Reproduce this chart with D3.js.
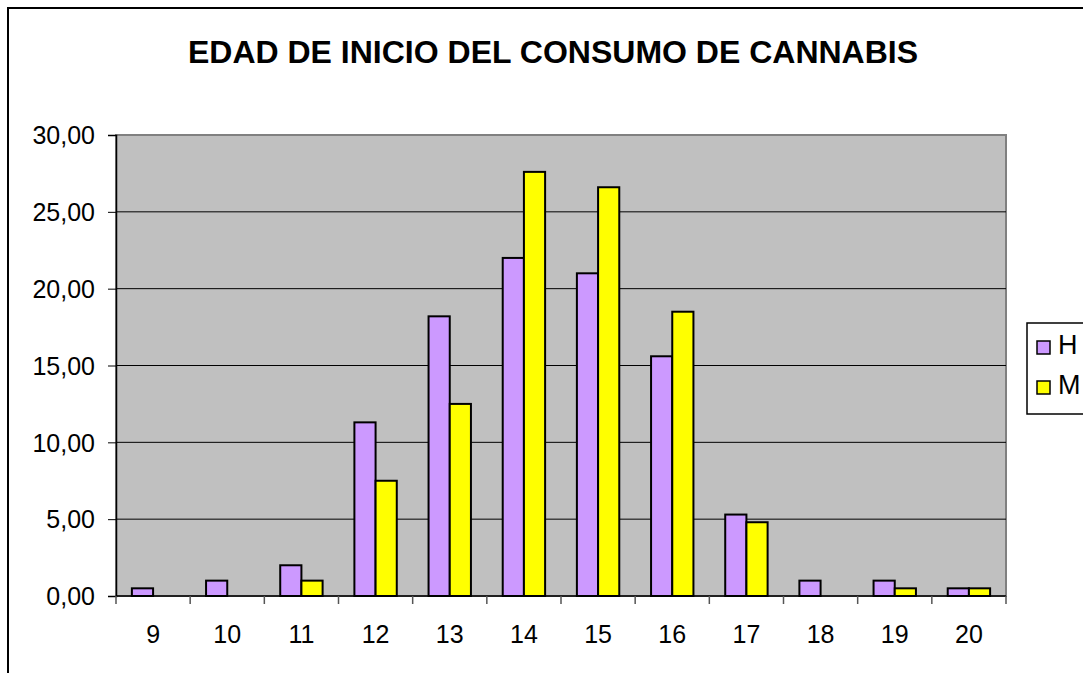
<!DOCTYPE html>
<html>
<head>
<meta charset="utf-8">
<script src="https://cdn.jsdelivr.net/npm/d3@7"></script>
<style>
  body { margin: 0; background: #fff; }
  text { font-family: "Liberation Sans", Arial, sans-serif; }
</style>
</head>
<body>
<div id="chart"></div>
<script>
// chart data
const ages = ["9", "10", "11", "12", "13", "14", "15", "16", "17", "18", "19", "20"];
const seriesNames = ["H", "M"];
const valuesH = [0.5, 1.0, 2.0, 11.3, 18.2, 22.0, 21.0, 15.6, 5.3, 1.0, 1.0, 0.5];
const valuesM = [0, 0, 1.0, 7.5, 12.5, 27.6, 26.6, 18.5, 4.8, 0, 0.5, 0.5];
const yTicks = [0, 5, 10, 15, 20, 25, 30];
const colors = ["#cc99ff", "#ffff00"];

const W = 1083, H = 673;
const plot = {left: 116, right: 1006, top: 135, bottom: 596};

const svg = d3.select("#chart").append("svg")
    .attr("width", W)
    .attr("height", H);

// outer chart frame (runs off the right/bottom edges)
svg.append("rect")
    .attr("x", 8).attr("y", 8)
    .attr("width", W + 20).attr("height", H + 20)
    .attr("fill", "#fff")
    .attr("stroke", "#000")
    .attr("stroke-width", 2);

// title
svg.append("text")
    .attr("x", 553).attr("y", 63)
    .attr("text-anchor", "middle")
    .attr("font-weight", "bold")
    .attr("font-size", 32)
    .text("EDAD DE INICIO DEL CONSUMO DE CANNABIS");

// scales
const x = d3.scaleBand()
    .domain(ages)
    .range([plot.left, plot.right]);

const y = d3.scaleLinear()
    .domain([0, 30])
    .range([plot.bottom, plot.top]);

// Excel style gap width 150%
const barW = x.bandwidth() / 3.5;
const gap = barW * 0.75;

// plot area
svg.append("rect")
    .attr("x", plot.left).attr("y", plot.top)
    .attr("width", plot.right - plot.left)
    .attr("height", plot.bottom - plot.top)
    .attr("fill", "#c0c0c0")
    .attr("stroke", "#808080")
    .attr("stroke-width", 2);

// gridlines
svg.append("g")
    .selectAll("line")
    .data(yTicks.filter(d => d > 0 && d < 30))
    .join("line")
    .attr("x1", plot.left).attr("x2", plot.right)
    .attr("y1", d => y(d)).attr("y2", d => y(d))
    .attr("stroke", "#000")
    .attr("stroke-width", 1);

// bars (zero values are not drawn)
const series = [valuesH, valuesM];
series.forEach((vals, si) => {
    const pts = vals.map((v, i) => ({age: ages[i], v: v})).filter(d => d.v > 0);
    svg.append("g")
        .selectAll("rect")
        .data(pts)
        .join("rect")
        .attr("x", d => x(d.age) + gap + si * barW)
        .attr("y", d => y(d.v))
        .attr("width", barW)
        .attr("height", d => y(0) - y(d.v))
        .attr("fill", colors[si])
        .attr("stroke", "#000")
        .attr("stroke-width", 2);
});

// y axis
const yAxis = d3.axisLeft(y)
    .tickValues(yTicks)
    .tickSize(8)
    .tickFormat(d => d3.format(".2f")(d).replace(".", ","));

svg.append("g")
    .attr("transform", `translate(${plot.left},0)`)
    .call(yAxis)
    .call(g => g.select(".domain").attr("stroke", "#000").attr("stroke-width", 1.5))
    .call(g => g.selectAll(".tick line").attr("stroke", "#000"))
    .call(g => g.selectAll("text")
        .attr("font-size", 25)
        .attr("fill", "#000")
        .attr("x", -21)
        .attr("dy", "0.35em"));

// x axis with ticks between categories
svg.append("line")
    .attr("x1", plot.left).attr("x2", plot.right)
    .attr("y1", plot.bottom).attr("y2", plot.bottom)
    .attr("stroke", "#000").attr("stroke-width", 1.5);

const edges = ages.map(a => x(a)).concat([plot.right]);
svg.append("g")
    .selectAll("line")
    .data(edges)
    .join("line")
    .attr("x1", d => d).attr("x2", d => d)
    .attr("y1", plot.bottom).attr("y2", plot.bottom + 8)
    .attr("stroke", "#555").attr("stroke-width", 1.5);

svg.append("g")
    .selectAll("text")
    .data(ages)
    .join("text")
    .attr("x", d => x(d) + x.bandwidth() / 2)
    .attr("y", 643)
    .attr("text-anchor", "middle")
    .attr("font-size", 25)
    .text(d => d);

// legend
const legend = svg.append("g");
legend.append("rect")
    .attr("x", 1027).attr("y", 323)
    .attr("width", 90).attr("height", 91)
    .attr("fill", "#fff")
    .attr("stroke", "#000")
    .attr("stroke-width", 1.5);

seriesNames.forEach((name, i) => {
    legend.append("rect")
        .attr("x", 1037).attr("y", 341 + i * 40)
        .attr("width", 13).attr("height", 13)
        .attr("fill", colors[i])
        .attr("stroke", "#000")
        .attr("stroke-width", 1.5);
    legend.append("text")
        .attr("x", 1058).attr("y", 354 + i * 40)
        .attr("font-size", 27)
        .text(name);
});
</script>
</body>
</html>
